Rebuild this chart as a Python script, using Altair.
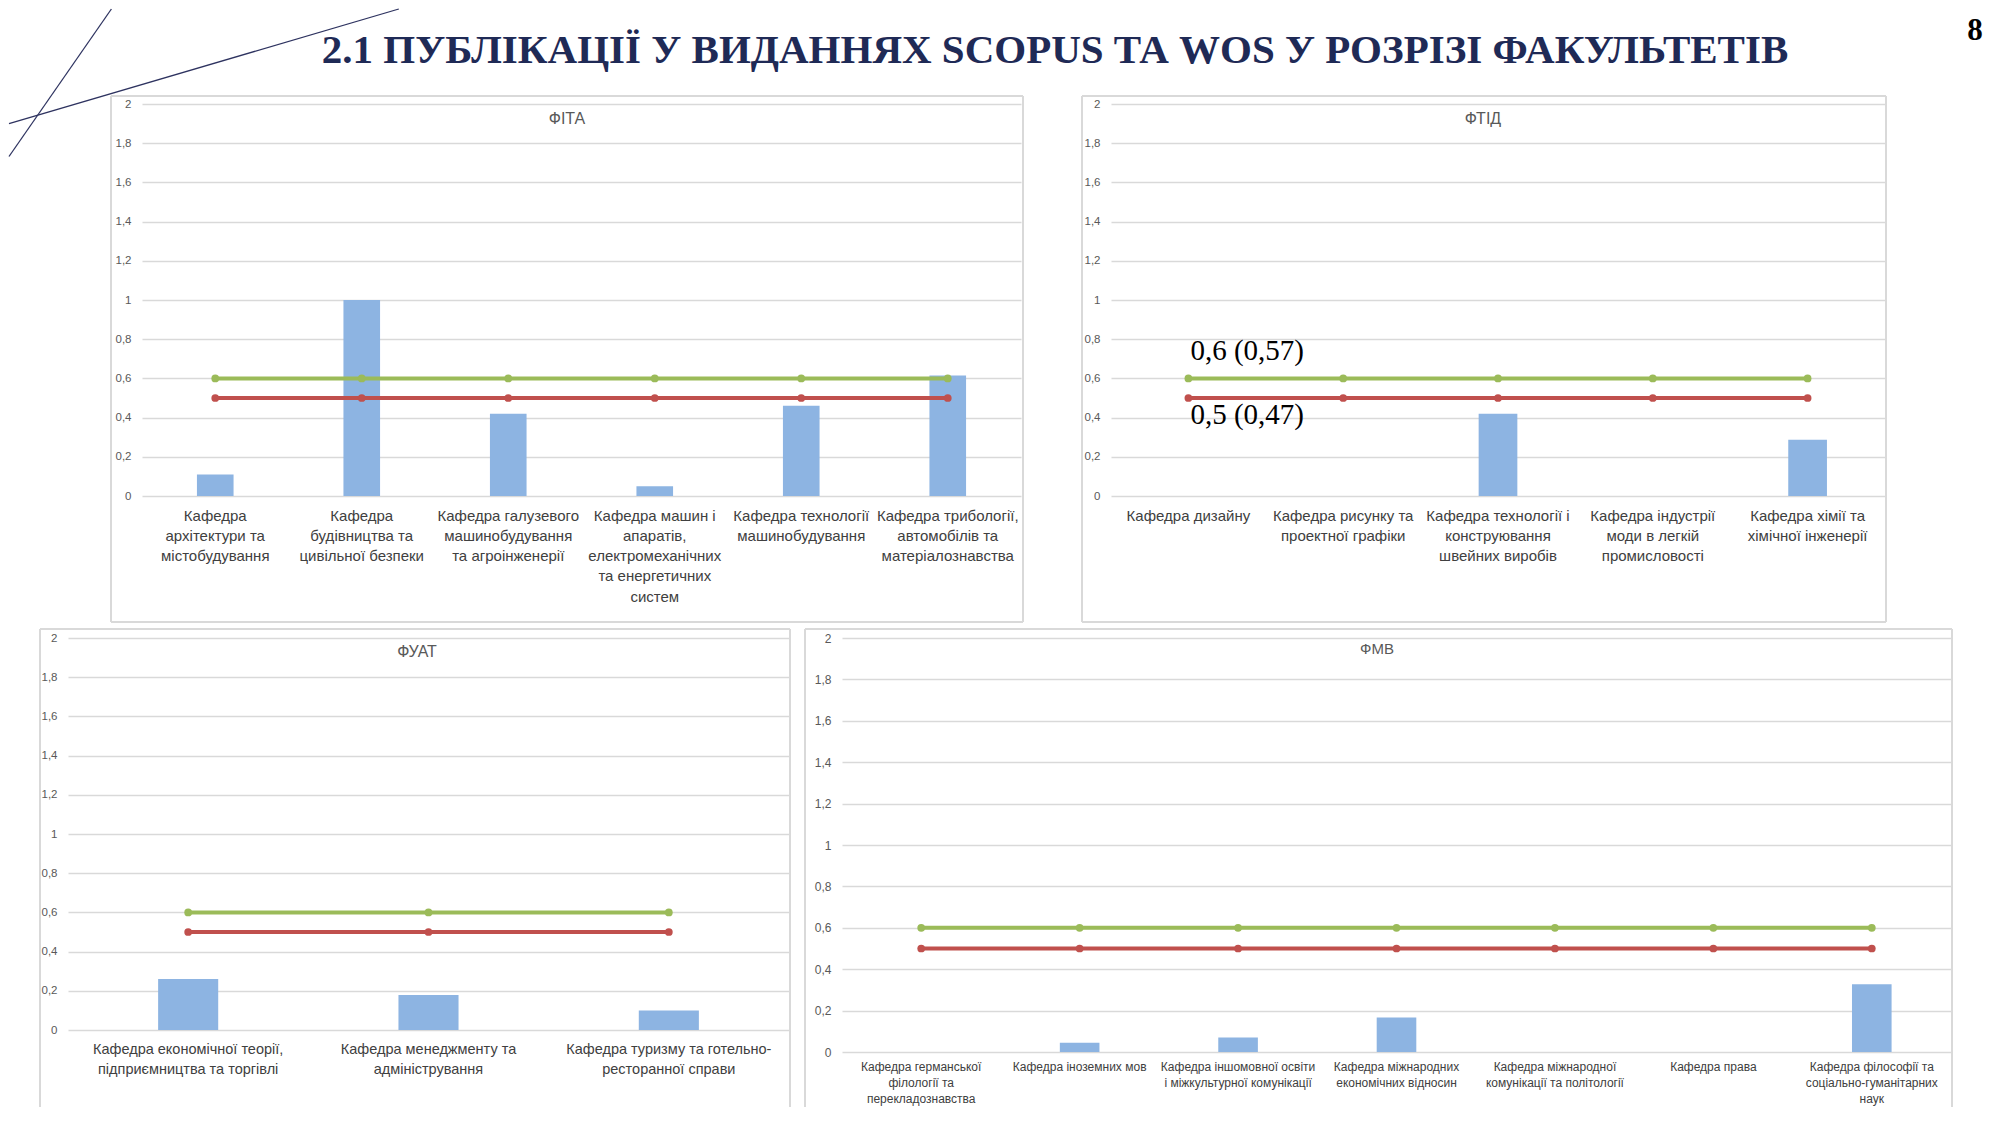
import altair as alt
import pandas as pd

# ---------------- data ----------------
fita_cats = [
    "Кафедра\nархітектури та\nмістобудування",
    "Кафедра\nбудівництва та\nцивільної безпеки",
    "Кафедра галузевого\nмашинобудування\nта агроінженерії",
    "Кафедра машин і\nапаратів,\nелектромеханічних\nта енергетичних\nсистем",
    "Кафедра технології\nмашинобудування",
    "Кафедра трибології,\nавтомобілів та\nматеріалознавства",
]
fita_vals = [0.11, 1.0, 0.42, 0.05, 0.46, 0.615]

ftid_cats = [
    "Кафедра дизайну",
    "Кафедра рисунку та\nпроектної графіки",
    "Кафедра технології і\nконструювання\nшвейних виробів",
    "Кафедра індустрії\nмоди в легкій\nпромисловості",
    "Кафедра хімії та\nхімічної інженерії",
]
ftid_vals = [0, 0, 0.42, 0, 0.287]
ftid_notes = ["0,6 (0,57)", "0,5 (0,47)"]

fuat_cats = [
    "Кафедра економічної теорії,\nпідприємництва та торгівлі",
    "Кафедра менеджменту та\nадміністрування",
    "Кафедра туризму та готельно-\nресторанної справи",
]
fuat_vals = [0.26, 0.178, 0.10]

fmv_cats = [
    "Кафедра германської\nфілології та\nперекладознавства",
    "Кафедра іноземних мов",
    "Кафедра іншомовної освіти\nі міжкультурної комунікації",
    "Кафедра міжнародних\nекономічних відносин",
    "Кафедра міжнародної\nкомунікації та політології",
    "Кафедра права",
    "Кафедра філософії та\nсоціально-гуманітарних\nнаук",
]
fmv_vals = [0, 0.045, 0.07, 0.167, 0, 0, 0.327]

norm_high = 0.6
norm_low = 0.5
y_ticks = [0, 0.2, 0.4, 0.6, 0.8, 1.0, 1.2, 1.4, 1.6, 1.8, 2.0]

page_title = "2.1 ПУБЛІКАЦІЇ У ВИДАННЯХ SCOPUS ТА WOS У РОЗРІЗІ ФАКУЛЬТЕТІВ"
page_number = "8"

# ---------------- style ----------------
BAR = "#8DB4E2"
GREEN = "#9BBB59"
RED = "#C0504D"
GRID = "#D9D9D9"
FRAME = "#D9D9D9"
NAVY = "#1F2A56"
SANS = "Liberation Sans"
SERIF = "Liberation Serif"
PAGE_LEFT = 8  # left edge of the drawable page (body margin)

one = pd.DataFrame({"k": [0]})


def panel(cats, vals, title, plot, frame, title_pos, xfs, xlh, xpad, yfs, tfs,
          open_bottom=False, notes=None, pad_left=False):
    px, py, w, h = plot
    fl, ft, fr, fb = frame
    n = len(cats)
    df = pd.DataFrame({
        "cat": cats,
        "val": vals,
        "hi": [norm_high] * n,
        "lo": [norm_low] * n,
    })
    xsc = alt.Scale(domain=cats, paddingInner=0, paddingOuter=0)
    x_axis = alt.Axis(
        title=None, labelAngle=0, domain=False, ticks=False,
        labelExpr="split(datum.label, '\\n')",
        labelFont=SANS, labelFontSize=xfs, labelLineHeight=xlh,
        labelColor="#404040", labelPadding=xpad, labelLimit=1000,
        labelOverlap=False, labelBaseline="top",
    )
    y_axis = alt.Axis(
        title=None, values=y_ticks, tickCount=50, domain=False, ticks=False,
        grid=True, gridColor=GRID, gridWidth=1.3, labelOverlap=False,
        labelFont=SANS, labelFontSize=yfs, labelColor="#595959",
        labelPadding=11,
        labelExpr="replace(format(datum.value, '.1~f'), '.', ',')",
    )
    ysc = alt.Scale(domain=[0, 2], nice=False, zero=True)

    def xe():
        return alt.X("cat:N", scale=xsc, sort=cats, axis=x_axis)

    def ye(field):
        return alt.Y(f"{field}:Q", scale=ysc, axis=y_axis)

    base = alt.Chart(df)
    layers = [base.mark_bar(color=BAR, width=alt.RelativeBandSize(0.25)).encode(
        x=xe(), y=ye("val"))]
    for field, col in (("hi", GREEN), ("lo", RED)):
        layers.append(base.mark_line(color=col, strokeWidth=4).encode(x=xe(), y=ye(field)))
        layers.append(base.mark_point(color=col, filled=True, opacity=1, size=60).encode(
            x=xe(), y=ye(field)))
    if notes:
        for txt, val, dy in ((notes[0], norm_high, -27), (notes[1], norm_low, 17)):
            ndf = pd.DataFrame({"cat": [cats[0]], "val": [val], "t": [txt]})
            layers.append(alt.Chart(ndf).mark_text(
                font=SERIF, fontSize=29, color="#000000", align="left",
                baseline="middle", dx=2, dy=dy).encode(
                x=xe(), y=ye("val"), text="t:N"))
    # chart title
    tx, ty = title_pos
    layers.append(alt.Chart(one).mark_text(
        font=SANS, fontSize=tfs, color="#595959", align="center", baseline="middle",
        text=title).encode(x=alt.value(tx - px), y=alt.value(ty - py)))
    # frame
    L, T, R, B = fl - px, ft - py, fr - px, fb - py
    fr_style = dict(color=FRAME, strokeWidth=2)
    layers.append(alt.Chart(one).mark_rule(**fr_style).encode(
        x=alt.value(L), x2=alt.value(R), y=alt.value(T)))
    layers.append(alt.Chart(one).mark_rule(**fr_style).encode(
        x=alt.value(L), y=alt.value(T), y2=alt.value(B)))
    layers.append(alt.Chart(one).mark_rule(**fr_style).encode(
        x=alt.value(R), y=alt.value(T), y2=alt.value(B)))
    if not open_bottom:
        layers.append(alt.Chart(one).mark_rule(**fr_style).encode(
            x=alt.value(L), x2=alt.value(R), y=alt.value(B)))
    if pad_left:
        # white (invisible) stub so this row's left bound matches the page edge
        layers.append(alt.Chart(one).mark_rule(color="#FFFFFF", strokeWidth=1.3).encode(
            x=alt.value(PAGE_LEFT - px), x2=alt.value(PAGE_LEFT - px + 2), y=alt.value(T)))
    return alt.layer(*layers).properties(width=w, height=h)


# layout in page pixels: (left, top, width, height) of plot; frame (l, t, r, b)
FITA_PLOT = (141, 103, 879, 392)
FTID_PLOT = (1110, 103, 774, 392)
FUAT_PLOT = (67, 637, 721, 392)
FMV_PLOT = (841, 637, 1109, 414)

fita = panel(fita_cats, fita_vals, "ФІТА", FITA_PLOT, (110, 95, 1022, 621), (566, 118),
             15, 20.3, 12, 11.5, 16)
ftid = panel(ftid_cats, ftid_vals, "ФТІД", FTID_PLOT, (1081, 95, 1885, 621), (1482, 118),
             15, 20.3, 12, 11.5, 16, notes=ftid_notes)
fuat = panel(fuat_cats, fuat_vals, "ФУАТ", FUAT_PLOT, (39, 628, 789, 1106), (416, 651),
             14.5, 20, 12, 11.5, 16, open_bottom=True, pad_left=True)
fmv = panel(fmv_cats, fmv_vals, "ФМВ", FMV_PLOT, (804, 628, 1951, 1106), (1376, 648),
            12, 16, 9, 12, 15, open_bottom=True)

# spacer holding the slide decoration, title and page number
sx, sy = FUAT_PLOT[0], FITA_PLOT[1]
deco = [
    alt.Chart(one).mark_rule(color="#2E3360", strokeWidth=1.3).encode(
        x=alt.value(PAGE_LEFT - sx), y=alt.value(155.5 - sy),
        x2=alt.value(110.4 - sx), y2=alt.value(8 - sy)),
    alt.Chart(one).mark_rule(color="#2E3360", strokeWidth=1.3).encode(
        x=alt.value(PAGE_LEFT - sx), y=alt.value(122.6 - sy),
        x2=alt.value(397.8 - sx), y2=alt.value(8 - sy)),
    alt.Chart(one).mark_text(font=SERIF, fontSize=41, fontWeight="bold", color=NAVY,
                             align="center", baseline="alphabetic", text=page_title).encode(
        x=alt.value(1054 - sx), y=alt.value(62 - sy)),
    alt.Chart(one).mark_text(font=SERIF, fontSize=31, fontWeight="bold", color="#000000",
                             align="center", baseline="alphabetic", text=page_number).encode(
        x=alt.value(1974 - sx), y=alt.value(39 - sy)),
]
spacer = alt.layer(*deco).properties(width=FITA_PLOT[0] - FUAT_PLOT[0], height=392)

row1 = alt.hconcat(spacer, alt.hconcat(fita, ftid, spacing=FTID_PLOT[0] - FITA_PLOT[0] - FITA_PLOT[2],
                                       bounds="flush"),
                   spacing=0, bounds="flush")
row2 = alt.hconcat(fuat, fmv, spacing=FMV_PLOT[0] - FUAT_PLOT[0] - FUAT_PLOT[2], bounds="flush")

chart = alt.vconcat(row1, row2, spacing=5).properties(
    padding=0, background="#FFFFFF"
).configure_view(stroke=None)

chart.save("out.html", embed_options={"renderer": "svg", "actions": False})
